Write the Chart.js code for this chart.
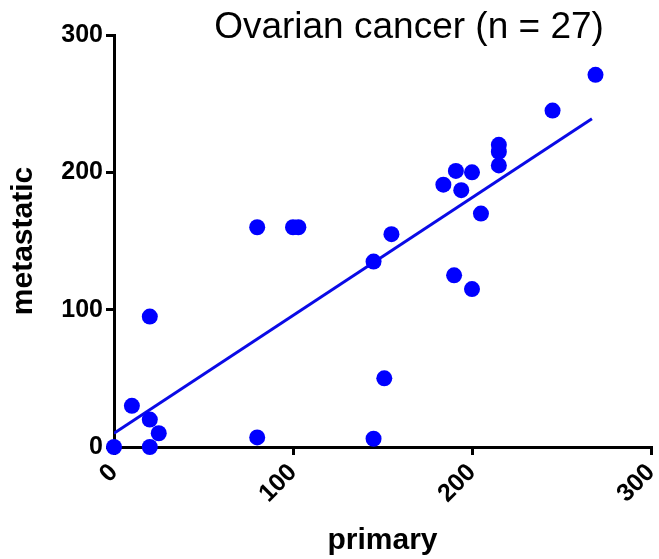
<!DOCTYPE html>
<html>
<head>
<meta charset="utf-8">
<script src="https://cdn.jsdelivr.net/npm/chart.js@4"></script>
<style>
  html, body { margin: 0; padding: 0; background: #fff; }
  #wrap { width: 659px; height: 559px; }
</style>
</head>
<body>
<div id="wrap"><canvas id="c" width="659" height="559"></canvas></div>
<script>
const chartTitle = 'Ovarian cancer (n = 27)';
const xTitle = 'primary';
const yTitle = 'metastatic';
const primary    = [0, 10, 20, 20, 20, 25, 80, 80, 100, 103, 145, 145, 151, 155, 184, 191, 194, 200, 205, 190, 200, 215, 215, 215, 245, 269];
const metastatic = [0, 30, 20, 0, 95, 10, 7, 160, 160, 160, 135, 6, 50, 155, 191, 201, 187, 200, 170, 125, 115, 220, 215, 205, 245, 271];
const fitX = [0, 267];
const fitY = [10, 239];
const tickValues = [0, 100, 200, 300];

const pts = primary.map((x, i) => ({ x: x, y: metastatic[i] }));
const fit = fitX.map((x, i) => ({ x: x, y: fitY[i] }));

const titlePlugin = {
  id: 'customTitle',
  afterDraw(chart) {
    const ctx = chart.ctx;
    ctx.save();
    ctx.font = '37px "Liberation Sans", Arial, sans-serif';
    ctx.fillStyle = '#000';
    ctx.textAlign = 'center';
    ctx.textBaseline = 'alphabetic';
    ctx.fillText(chartTitle, 409, 38);
    ctx.restore();
  }
};

const tickFont = { family: '"Liberation Sans", Arial, sans-serif', size: 25, weight: 'bold' };
const titleFont = { family: '"Liberation Sans", Arial, sans-serif', size: 30, weight: 'bold' };

new Chart(document.getElementById('c'), {
  type: 'scatter',
  data: {
    datasets: [
      {
        type: 'line',
        data: fit,
        borderColor: '#0a0ae6',
        borderWidth: 3,
        pointRadius: 0,
        fill: false,
        order: 2
      },
      {
        data: pts,
        backgroundColor: '#0000ff',
        borderColor: '#0000ff',
        borderWidth: 0,
        pointRadius: 8,
        pointHoverRadius: 8,
        clip: false,
        order: 1
      }
    ]
  },
  options: {
    responsive: false,
    animation: false,
    devicePixelRatio: 1,
    layout: { padding: { top: 35, right: 8, left: 0, bottom: 0 } },
    plugins: { legend: { display: false }, tooltip: { enabled: false }, title: { display: false } },
    scales: {
      x: {
        type: 'linear',
        min: 0, max: 300,
        afterBuildTicks(scale) { scale.ticks = tickValues.map(v => ({ value: v })); },
        afterFit(scale) { scale.height = 112; scale.paddingLeft = 0; scale.paddingRight = 0; },
        ticks: { font: tickFont, color: '#000', maxRotation: 45, minRotation: 45, padding: 3 },
        grid: { display: true, drawOnChartArea: false, drawTicks: true, tickLength: 8, tickWidth: 3, color: '#000', lineWidth: 3 },
        border: { display: true, color: '#000', width: 3 },
        title: { display: true, text: xTitle, color: '#000', font: titleFont, padding: { top: 0, bottom: 0 } }
      },
      y: {
        type: 'linear',
        min: 0, max: 300,
        afterBuildTicks(scale) { scale.ticks = tickValues.map(v => ({ value: v })); },
        afterFit(scale) { scale.width = 114; scale.paddingTop = 0; scale.paddingBottom = 0; },
        ticks: { font: tickFont, color: '#000', padding: 3 },
        grid: { display: true, drawOnChartArea: false, drawTicks: true, tickLength: 8, tickWidth: 3, color: '#000', lineWidth: 3 },
        border: { display: true, color: '#000', width: 3 },
        title: { display: true, text: yTitle, color: '#000', font: titleFont, padding: { top: 6, bottom: 0 } }
      }
    }
  },
  plugins: [titlePlugin]
});
</script>
</body>
</html>
